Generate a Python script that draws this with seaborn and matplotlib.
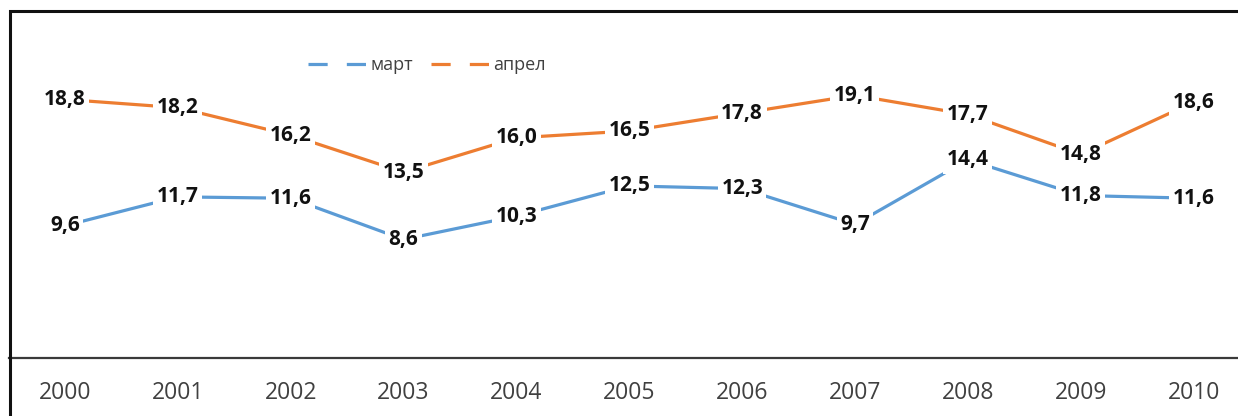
import matplotlib
matplotlib.use("Agg")
import matplotlib.pyplot as plt
import seaborn as sns
import pandas as pd
from matplotlib.lines import Line2D
from matplotlib.patches import Rectangle

years = ["2000", "2001", "2002", "2003", "2004", "2005", "2006", "2007", "2008", "2009", "2010"]
mart = [9.6, 11.7, 11.6, 8.6, 10.3, 12.5, 12.3, 9.7, 14.4, 11.8, 11.6]
april = [18.8, 18.2, 16.2, 13.5, 16.0, 16.5, 17.8, 19.1, 17.7, 14.8, 18.6]
series_names = ["март", "апрел"]
colors = ["#5B9BD5", "#ED7D31"]

sns.set_theme(style="white")
plt.rcParams["font.family"] = ["Open Sans", "DejaVu Sans"]

W, H = 1238, 416
fig = plt.figure(figsize=(W / 100, H / 100), dpi=100)
ax = fig.add_axes([8.5 / W, (H - 357.5) / H, 1241.5 / W, (357.5 - 11) / H])

rows = []
for name, vals in zip(series_names, [mart, april]):
    for i, v in enumerate(vals):
        rows.append({"idx": i, "value": v, "series": name})
df = pd.DataFrame(rows)

sns.lineplot(data=df, x="idx", y="value", hue="series", palette=colors,
             hue_order=series_names, linewidth=2.3, ax=ax, legend=False, sort=False)

for vals in [mart, april]:
    for i, v in enumerate(vals):
        ax.text(i, v, f"{v:.1f}".replace(".", ","), ha="center", va="center",
                fontsize=15, fontweight="bold", color="#111111",
                bbox=dict(facecolor="white", edgecolor="none", pad=2.5), zorder=5)

ax.set_xlim(-0.5, 10.5)
ax.set_ylim(0, 25.24)
ax.set_xticks(range(len(years)))
ax.set_xticklabels(years, fontsize=16.5, color="#404040")
ax.set_yticks([])
ax.tick_params(axis="x", length=0, pad=17)
ax.set_xlabel("")
ax.set_ylabel("")
for s in ["left", "right", "top"]:
    ax.spines[s].set_visible(False)
ax.spines["bottom"].set_color("#3a3a3a")
ax.spines["bottom"].set_linewidth(1.6)

handles = [Line2D([0], [0], color=c, lw=2.3, linestyle=(0, (6, 6))) for c in colors]
leg = fig.legend(handles, series_names, loc="center", bbox_to_anchor=(427 / W, (H - 65) / H),
                 ncol=2, frameon=False, fontsize=13, handlelength=3.3,
                 handletextpad=0.15, columnspacing=1.0)
for t in leg.get_texts():
    t.set_color("#404040")

fig.add_artist(Rectangle((10 / W, -0.1), 1.2, (H - 11) / H + 0.1, transform=fig.transFigure,
                         fill=False, edgecolor="#111111", linewidth=2.2, zorder=10))

fig.savefig("out.png", dpi=100)
